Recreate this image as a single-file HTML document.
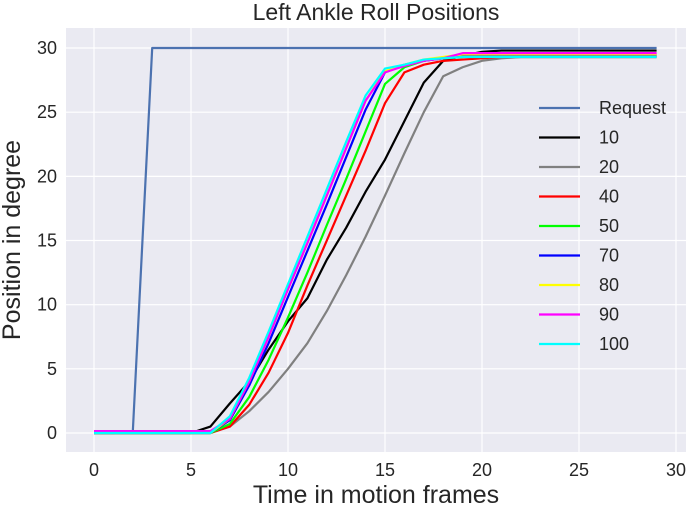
<!DOCTYPE html>
<html><head><style>
body{margin:0;background:#fff;}
svg{display:block;font-family:"Liberation Sans",sans-serif;}
</style></head><body>
<svg id="s" width="689" height="506" viewBox="0 0 689 506">
<rect x="66" y="28" width="620" height="424" fill="#eaeaf2"/>
<g id="grid" stroke="#fff" stroke-width="1.2"></g>
<g id="lines" fill="none" stroke-width="2.2" stroke-linejoin="round"></g>
<g id="labels" fill="#262626" font-size="18"></g>
<text x="376" y="20" text-anchor="middle" font-size="23" fill="#262626">Left Ankle Roll Positions</text>
<text x="376" y="503" text-anchor="middle" font-size="25" fill="#262626">Time in motion frames</text>
<text transform="translate(20,240) rotate(-90)" text-anchor="middle" font-size="25" fill="#262626">Position in degree</text>
<g id="leg" font-size="18" fill="#262626"></g>
</svg>
<script>
const X=v=>94+v*19.4, Y=v=>433-v*12.833;
const ns="http://www.w3.org/2000/svg";
function el(p,t,a,txt){const e=document.createElementNS(ns,t);for(const k in a)e.setAttribute(k,a[k]);if(txt!=null)e.textContent=txt;document.getElementById(p).appendChild(e);}
for(let i=0;i<=30;i+=5){el("grid","line",{x1:X(i),x2:X(i),y1:28,y2:452});el("labels","text",{x:X(i),y:476,"text-anchor":"middle"},i);}
for(let i=0;i<=30;i+=5){el("grid","line",{x1:66,x2:686,y1:Y(i),y2:Y(i)});el("labels","text",{x:57,y:Y(i)+6,"text-anchor":"end"},i);}
const z=n=>Array(n).fill(0);
const tail=(a,v)=>{while(a.length<30)a.push(v);return a;};
const S=[
["Request","#4c72b0",tail([0,0,0.1,30],30)],
["10","#000",tail([...z(6),0.5,2.3,4,6.5,8.7,10.5,13.5,16,18.8,21.3,24.3,27.3,29,29.4,29.7,29.8],29.8)],
["20","#808080",tail([...z(7),0.5,1.7,3.2,5,7,9.5,12.3,15.3,18.5,21.8,25,27.8,28.5,29,29.2],29.3)],
["40","#f00",tail([...z(7),0.5,2.2,4.7,7.8,11.5,15,18.5,22,25.7,28.1,28.7,29,29.1,29.2],29.3)],
["50","#0f0",tail([...z(7),0.7,2.8,5.7,9,12.5,16.2,19.8,23.5,27.2,28.5,29,29.2,29.3],29.5)],
["70","#00f",tail([...z(7),1,3.7,7,10.6,14.2,17.8,21.5,25.2,28.1,28.7,29,29.2],29.4)],
["80","#ff0",tail([...z(7),1.1,4,7.5,11.2,14.8,18.5,22.2,25.9,28.2,28.7,29.1,29.3],29.5)],
["90","#f0f",tail([0.15,0.15,0.15,0.15,0.15,0.15,0.15,1.1,4,7.5,11.2,14.8,18.5,22.2,25.9,28.1,28.6,29,29.2],29.6)],
["100","#0ff",tail([...z(7),1.3,4.3,7.9,11.6,15.3,19,22.7,26.3,28.4,28.7,29.1,29.2],29.3)]];
S.forEach((s,k)=>{
 el("lines","polyline",{stroke:s[1],points:s[2].map((v,i)=>X(i)+","+Y(v)).join(" ")});
 const y=108+k*29.5;
 el("leg","line",{x1:539,x2:580,y1:y,y2:y,stroke:s[1],"stroke-width":2.2});
 el("leg","text",{x:599,y:y+6},s[0]);
});
</script>
</body></html>
